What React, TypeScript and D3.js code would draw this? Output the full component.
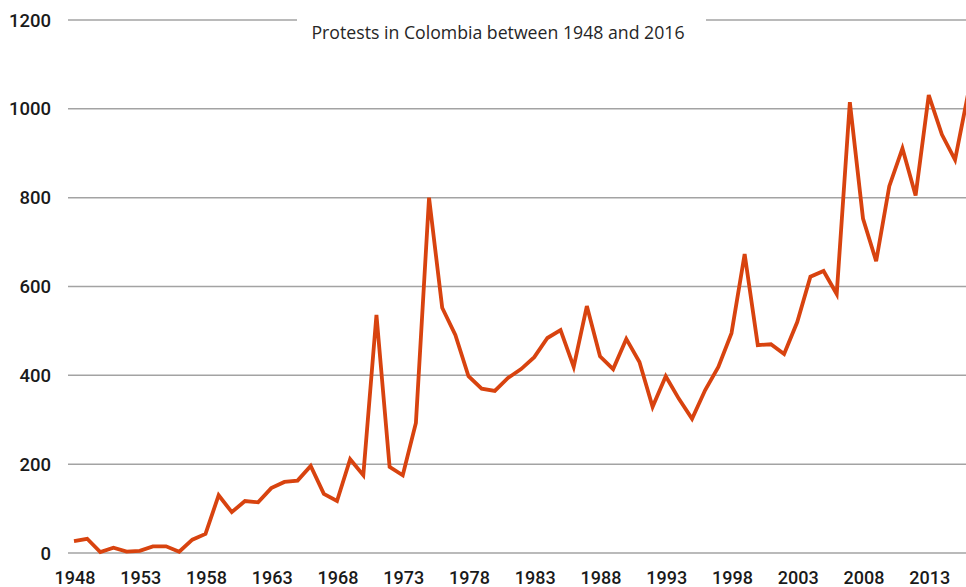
import { useEffect, useRef } from 'react'
import * as d3 from 'd3'

const years = d3.range(1948, 2017)
const protests = [
  27, 32, 2, 12, 3, 5, 15, 15, 3, 30,
  43, 130, 92, 117, 114, 146, 160, 163, 196, 133,
  117, 211, 175, 536, 194, 175, 293, 800, 552, 491,
  398, 370, 365, 394, 414, 441, 484, 502, 419, 556,
  443, 414, 482, 430, 329, 398, 347, 302, 367, 419,
  495, 673, 468, 470, 448, 520, 622, 635, 583, 1015,
  753, 657, 826, 911, 805, 1031, 942, 885, 1035,
]
const yTicks = [0, 200, 400, 600, 800, 1000, 1200]
const xTicks = d3.range(1948, 2014, 5)
const title = 'Protests in Colombia between 1948 and 2016'

export default function App() {
  const ref = useRef<SVGSVGElement>(null)

  useEffect(() => {
    document.body.style.margin = '0'
    if (!ref.current) return
    const svg = d3.select(ref.current)
    svg.selectAll('*').remove()

    const width = 966
    const height = 587

    const x = d3.scaleLinear().domain([1948, 2016]).range([74, 74 + 68 * 13.15])
    const y = d3.scaleLinear().domain([0, 1200]).range([553, 20])

    const data = years.map((yr, i) => ({ yr, v: protests[i] }))

    // gridlines
    svg.append('g')
      .selectAll('line')
      .data(yTicks)
      .join('line')
      .attr('x1', 68).attr('x2', width)
      .attr('y1', d => y(d)).attr('y2', d => y(d))
      .attr('stroke', '#a3a3a3')
      .attr('stroke-width', 1.5)

    // y labels
    svg.append('g')
      .selectAll('text')
      .data(yTicks)
      .join('text')
      .attr('x', 51)
      .attr('y', d => y(d))
      .attr('dy', '0.36em')
      .attr('text-anchor', 'end')
      .attr('font-family', 'Roboto, sans-serif')
      .attr('font-weight', 500)
      .attr('font-size', '18.5px')
      .attr('fill', '#1a1a1a')
      .text(d => d)

    // x labels
    svg.append('g')
      .selectAll('text')
      .data(xTicks)
      .join('text')
      .attr('x', d => x(d) + 1)
      .attr('y', 584)
      .attr('text-anchor', 'middle')
      .attr('font-family', 'Roboto, sans-serif')
      .attr('font-weight', 500)
      .attr('font-size', '18px')
      .attr('fill', '#1a1a1a')
      .text(d => d)

    // series
    const line = d3.line<{ yr: number; v: number }>()
      .x(d => x(d.yr))
      .y(d => y(d.v))
    svg.append('path')
      .datum(data)
      .attr('d', line)
      .attr('fill', 'none')
      .attr('stroke', '#d8430f')
      .attr('stroke-width', 3.8)
      .attr('stroke-linejoin', 'miter')

    // title with white box over top gridline
    svg.append('rect')
      .attr('x', 297).attr('y', 8)
      .attr('width', 409).attr('height', 40)
      .attr('fill', '#fff')
    svg.append('text')
      .attr('x', 498)
      .attr('y', 39)
      .attr('text-anchor', 'middle')
      .attr('font-family', '"Open Sans", sans-serif')
      .attr('font-size', '17.7px')
      .attr('fill', '#262626')
      .text(title)

    svg.attr('width', width).attr('height', height)
  }, [])

  return <svg ref={ref} style={{ display: 'block' }} />
}
